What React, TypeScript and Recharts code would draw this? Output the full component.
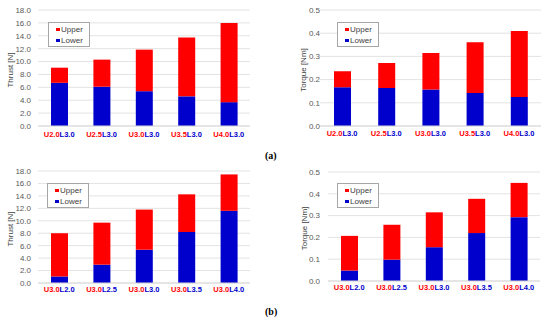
import { BarChart, Bar, XAxis, YAxis, CartesianGrid, Legend } from 'recharts';

// Stacked contributions of upper / lower rotor
const casesA = ['U2.0L3.0', 'U2.5L3.0', 'U3.0L3.0', 'U3.5L3.0', 'U4.0L3.0'];
const casesB = ['U3.0L2.0', 'U3.0L2.5', 'U3.0L3.0', 'U3.0L3.5', 'U3.0L4.0'];

const thrustLowerA = [6.7, 6.1, 5.4, 4.6, 3.7];
const thrustUpperA = [2.35, 4.2, 6.45, 9.15, 12.3];
const torqueLowerA = [0.167, 0.164, 0.157, 0.142, 0.125];
const torqueUpperA = [0.069, 0.108, 0.158, 0.219, 0.285];

const thrustLowerB = [1.05, 2.95, 5.35, 8.2, 11.6];
const thrustUpperB = [6.95, 6.75, 6.45, 6.05, 5.85];
const torqueLowerB = [0.048, 0.098, 0.155, 0.22, 0.293];
const torqueUpperB = [0.159, 0.16, 0.16, 0.157, 0.157];

const thrustTicks = [0, 2, 4, 6, 8, 10, 12, 14, 16, 18];
const torqueTicks = [0, 0.1, 0.2, 0.3, 0.4, 0.5];

const RED = '#ff0000';
const BLUE = '#0000cc';
const FONT = '"Liberation Sans", Arial, sans-serif';

const rows = (cases: string[], lower: number[], upper: number[]) =>
  cases.map((c, i) => ({ name: c, lower: lower[i], upper: upper[i] }));

const CaseTick = ({ x, y, payload, dyText }: any) => {
  const m = /^(U[\d.]+)(L[\d.]+)$/.exec(payload.value) || ['', payload.value, ''];
  return (
    <text x={x} y={y} dy={dyText} textAnchor="middle" fontSize={7.5} fontWeight="bold" fontFamily={FONT}>
      <tspan fill={RED}>{m[1]}</tspan>
      <tspan fill={BLUE}>{m[2]}</tspan>
    </text>
  );
};

const BoxLegend = ({ payload }: any) => {
  const items = [...(payload || [])].sort((a: any, b: any) => (a.value === 'Upper' ? -1 : b.value === 'Upper' ? 1 : 0));
  return (
    <div
      style={{
        border: '1px solid #a6a6a6',
        background: '#fff',
        width: 42,
        height: 25,
        boxSizing: 'border-box',
        padding: '1px 0 0 7px',
        fontFamily: FONT,
        fontSize: 8,
        color: '#404040',
      }}
    >
      {items.map((it: any) => (
        <div key={it.value} style={{ display: 'flex', alignItems: 'center', height: 11 }}>
          <span style={{ width: 3.5, height: 3.5, background: it.color, marginRight: 1.5, display: 'inline-block' }} />
          {it.value}
        </div>
      ))}
    </div>
  );
};

const yTitle = (titleX: number) => (p: any) => {
  const vb = p.viewBox || {};
  const cy = vb.y + vb.height / 2 + 2;
  return (
    <text
      x={titleX}
      y={cy}
      transform={`rotate(-90, ${titleX}, ${cy})`}
      textAnchor="middle"
      dominantBaseline="central"
      fontSize={8}
      fill="#404040"
      fontFamily={FONT}
    >
      {p.value}
    </text>
  );
};

interface PanelProps {
  left: number;
  top: number;
  width: number;
  height: number;
  margin: { top: number; right: number; left: number; bottom: number };
  yWidth: number;
  yTickMargin: number;
  xHeight: number;
  labelDy: number;
  data: any[];
  ticks: number[];
  max: number;
  title: string;
  titleX: number;
  legendPos: { left: number; top: number };
}

function Panel(p: PanelProps) {
  return (
    <div style={{ position: 'absolute', left: p.left, top: p.top }}>
      <BarChart width={p.width} height={p.height} data={p.data} margin={p.margin}>
        <CartesianGrid vertical={false} stroke="#e3e3e3" />
        <XAxis
          dataKey="name"
          height={p.xHeight}
          tickLine={false}
          tickSize={0}
          tickMargin={0}
          axisLine={{ stroke: '#d9d9d9' }}
          interval={0}
          tick={<CaseTick dyText={p.labelDy} />}
        />
        <YAxis
          width={p.yWidth}
          domain={[0, p.max]}
          ticks={p.ticks}
          interval={0}
          allowDataOverflow
          axisLine={false}
          tickLine={false}
          tickSize={0}
          tickMargin={p.yTickMargin}
          tickFormatter={(v: number) => v.toFixed(1)}
          tick={{ fontSize: 8, fill: '#595959', fontFamily: FONT }}
          label={{ value: p.title, content: yTitle(p.titleX) }}
        />
        <Legend
          layout="vertical"
          align="center"
          verticalAlign="middle"
          wrapperStyle={{ left: p.legendPos.left, top: p.legendPos.top, width: 'auto', height: 'auto' }}
          content={<BoxLegend />}
        />
        <Bar dataKey="lower" name="Lower" stackId="s" fill={BLUE} barSize={17} isAnimationActive={false} />
        <Bar dataKey="upper" name="Upper" stackId="s" fill={RED} barSize={17} isAnimationActive={false} />
      </BarChart>
    </div>
  );
}

const tagStyle = {
  position: 'absolute' as const,
  fontFamily: '"Liberation Serif", "Times New Roman", serif',
  fontWeight: 'bold' as const,
  fontSize: 10,
  lineHeight: '10px',
  color: '#000',
};

export default function App() {
  return (
    <div style={{ position: 'absolute', left: 0, top: 0, width: 550, height: 323, background: '#fff', overflow: 'hidden' }}>
      <Panel
        left={0}
        top={0}
        width={262}
        height={145}
        margin={{ top: 10, right: 12, left: 0, bottom: 0 }}
        yWidth={38}
        yTickMargin={7}
        xHeight={19}
        labelDy={10.7}
        data={rows(casesA, thrustLowerA, thrustUpperA)}
        ticks={thrustTicks}
        max={18}
        title="Thrust [N]"
        titleX={10}
        legendPos={{ left: 48, top: 22 }}
      />
      <Panel
        left={275}
        top={0}
        width={270}
        height={145}
        margin={{ top: 10, right: 4, left: 0, bottom: 0 }}
        yWidth={45}
        yTickMargin={0}
        xHeight={19}
        labelDy={10}
        data={rows(casesA, torqueLowerA, torqueUpperA)}
        ticks={torqueTicks}
        max={0.5}
        title="Torque [Nm]"
        titleX={28}
        legendPos={{ left: 62, top: 22 }}
      />
      <Panel
        left={0}
        top={160}
        width={262}
        height={145}
        margin={{ top: 11, right: 12, left: 0, bottom: 0 }}
        yWidth={38}
        yTickMargin={7}
        xHeight={22}
        labelDy={9.4}
        data={rows(casesB, thrustLowerB, thrustUpperB)}
        ticks={thrustTicks}
        max={18}
        title="Thrust [N]"
        titleX={10}
        legendPos={{ left: 47, top: 23 }}
      />
      <Panel
        left={275}
        top={160}
        width={270}
        height={145}
        margin={{ top: 12, right: 5, left: 0, bottom: 0 }}
        yWidth={53}
        yTickMargin={8}
        xHeight={24}
        labelDy={9.1}
        data={rows(casesB, torqueLowerB, torqueUpperB)}
        ticks={torqueTicks}
        max={0.5}
        title="Torque [Nm]"
        titleX={29}
        legendPos={{ left: 62, top: 23 }}
      />
      <div style={{ ...tagStyle, left: 265, top: 151 }}>(a)</div>
      <div style={{ ...tagStyle, left: 265, top: 307 }}>(b)</div>
    </div>
  );
}
